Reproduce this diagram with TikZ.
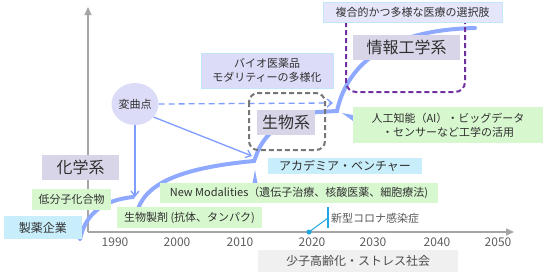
\documentclass[tikz,border=0pt]{standalone}
\usepackage{fontspec}
\setmainfont{Noto Sans CJK JP}
\usetikzlibrary{arrows.meta,shapes.geometric}
\definecolor{txt}{HTML}{303030}
\definecolor{axisgray}{HTML}{A6A6A6}
\definecolor{yeargray}{HTML}{5F5F5F}
\definecolor{curveblue}{HTML}{8EA9FF}
\definecolor{thinblue}{HTML}{7F9CFF}
\definecolor{gfill}{HTML}{D7F7CF}
\definecolor{cfill}{HTML}{C8EEFC}
\definecolor{lfill}{HTML}{D9D5E8}
\definecolor{bfill}{HTML}{DCDCF8}
\definecolor{bborder}{HTML}{BFE6FA}
\definecolor{pfill}{HTML}{E6E6FA}
\definecolor{grayband}{HTML}{F0F0F0}
\definecolor{dashgray}{HTML}{767676}
\definecolor{purp}{HTML}{7030A0}
\definecolor{covid}{HTML}{1FA8E0}
\begin{document}
\begin{tikzpicture}[x=1pt,y=-1pt,
  box/.style={inner sep=0pt,outer sep=0pt,text=txt,align=center},
  fs/.style={font=\fontsize{11}{14}\selectfont},
  fm/.style={font=\fontsize{12}{14}\selectfont},
  fb/.style={font=\fontsize{16}{18}\selectfont},
  greenbox/.style={box,fill=gfill},
  cyanbox/.style={box,fill=cfill},
  lavbox/.style={box,fill=lfill},
  thick curve/.style={draw=curveblue,line width=4pt,line cap=round},
  thinarrow/.style={draw=thinblue,line width=1.3pt,-{Straight Barb[length=5pt,width=8pt]}},
  axis/.style={draw=axisgray,line width=1.5pt,-{Triangle[length=8pt,width=7pt]}},
  year/.style={text=yeargray,font=\fontsize{12}{14}\selectfont,inner sep=0pt}
]
\useasboundingbox (0,0) rectangle (555,277);
\fill[white] (0,0) rectangle (555,277);

% axes
\coordinate (orig) at (88,232);
\coordinate (ytop) at (88,7);
\coordinate (xend) at (514,232);
\path[axis] (orig) -- (ytop);
\path[axis] (orig) -- (xend);

% years
\node[year] (y1990) at (115,242) {1990};
\node[year] (y2000) at (177,242) {2000};
\node[year] (y2010) at (240,242) {2010};
\node[year] (y2020) at (312,242) {2020};
\node[year] (y2030) at (373,242) {2030};
\node[year] (y2040) at (437,242) {2040};
\node[year] (y2050) at (498,242) {2050};

% covid marker
\node[circle,fill=covid,inner sep=0pt,minimum size=5pt] (dot) at (309,232) {};
\coordinate (vbtop) at (328,207);
\coordinate (vbbot) at (328,228);
\coordinate (vbmid) at (328,218);
\draw[covid,line width=1pt] (dot.center) -- (vbmid);
\draw[covid,line width=1.2pt] (vbtop) -- (vbbot);
\node[anchor=west,inner sep=0pt,text=black!65,fs] (covidlbl) at (331,218) {新型コロナ感染症};

% bottom band
\node[box,fill=grayband,minimum width=200pt,minimum height=22pt,fm,text=black!70] (society) at (358,261) {少子高齢化・ストレス社会};

% thick curve
\coordinate (c1s) at (80,239);
\coordinate (c1e) at (133,197);
\coordinate (c2s) at (138,209);
\coordinate (j1) at (254,161);
\coordinate (j2) at (337,111);
\coordinate (cend) at (475,28);
\path[thick curve] (c1s) .. controls (86,212) and (105,200) .. (c1e);
\path[thick curve,line join=miter] (c2s) .. controls (148,180) and (190,167) .. (j1)
  -- (256,156) .. controls (262,138) and (280,116) .. (318,112) -- (j2)
  .. controls (346,70) and (380,30) .. (cend);

% blue wedges
\fill[curveblue] (255,170) -- (257.5,183) -- (252.5,183) -- cycle;
\fill[curveblue] (342,113) -- (353,115) -- (353,121) -- cycle;

% inflection point
\node[ellipse,fill=bfill,minimum width=47pt,minimum height=42pt,inner sep=0pt,text=txt,fs] (henkyoku) at (135,104) {変曲点};
\coordinate (vtip) at (135,197);
\coordinate (dtip) at (252,156);
\coordinate (htip) at (333,103);
\path[thinarrow] (henkyoku.south) -- (vtip);
\path[thinarrow] (henkyoku.-35) -- (dtip);
\path[thinarrow,dashed,dash pattern=on 6pt off 4pt] (henkyoku.east) -- (htip);

% boxes
\node[cyanbox,minimum width=78pt,minimum height=23pt,fm] (seiyaku) at (43,227.5) {製薬企業};
\node[greenbox,minimum width=79pt,minimum height=21pt,fs] (teibunshi) at (71.5,199.5) {低分子化合物};
\node[lavbox,minimum width=77pt,minimum height=25pt,fb] (kagaku) at (80.5,167.5) {化学系};
\node[greenbox,minimum width=145pt,minimum height=21pt,fs] (seibutsuseizai) at (189.5,217.5) {生物製剤 (抗体、タンパク)};
\node[greenbox,minimum width=278pt,minimum height=20pt,fs] (newmod) at (299,193) {New Modalities（遺伝子治療、核酸医薬、細胞療法)};
\node[cyanbox,minimum width=154pt,minimum height=16pt,fm] (academia) at (345,165.5) {アカデミア・ベンチャー};
\node[lavbox,minimum width=58pt,minimum height=25pt,fb] (seibutsu) at (286,122.5) {生物系};
\draw[dashgray,line width=2pt,dashed,dash pattern=on 5pt off 3pt,rounded corners=9pt] (249,93) rectangle (325,150);
\node[box,fill=bfill,draw=bborder,line width=0.8pt,minimum width=132pt,minimum height=35pt,fs] (bio) at (267,70.5) {バイオ医薬品\\モダリティーの多様化};
\draw[purp,line width=2pt,dashed,dash pattern=on 5pt off 3pt,rounded corners=10pt] (346,12) rectangle (465,92);
\node[lavbox,minimum width=107pt,minimum height=25pt,fb] (joho) at (406.5,47.5) {情報工学系};
\node[box,fill=pfill,draw=bborder,line width=0.8pt,minimum width=179pt,minimum height=20pt,fs] (fukugou) at (412.5,12) {複合的かつ多様な医療の選択肢};
\node[greenbox,minimum width=190pt,minimum height=36pt,fs] (ai) at (448,125) {人工知能（AI）・ビッグデータ\\・センサーなど工学の活用};
\end{tikzpicture}
\end{document}
